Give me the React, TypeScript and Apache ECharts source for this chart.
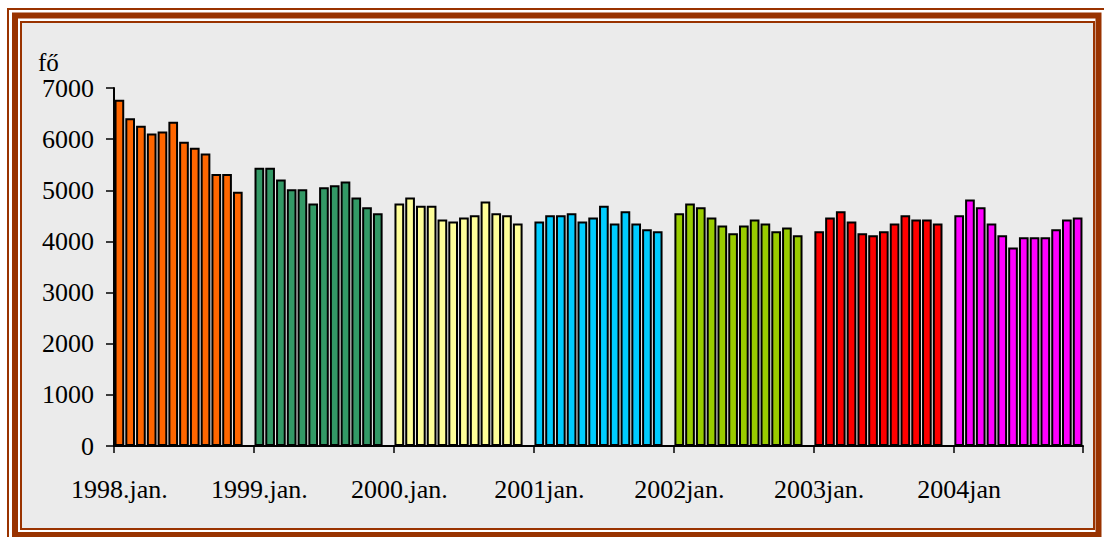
import React, { useEffect, useRef } from "react";
import * as echarts from "echarts";

const yearLabels = ["1998.jan.", "1999.jan.", "2000.jan.", "2001jan.", "2002jan.", "2003jan.", "2004jan"];
const yearColors = ["#FF6600", "#339966", "#FFFF99", "#00CCFF", "#99CC00", "#FF0000", "#FF00FF"];

const y1998 = [6770, 6410, 6260, 6110, 6150, 6340, 5950, 5830, 5720, 5320, 5320, 4970];
const y1999 = [5440, 5440, 5210, 5020, 5020, 4740, 5060, 5100, 5170, 4860, 4670, 4550];
const y2000 = [4740, 4860, 4700, 4700, 4430, 4390, 4470, 4510, 4780, 4550, 4510, 4350];
const y2001 = [4390, 4510, 4510, 4550, 4390, 4470, 4700, 4350, 4590, 4350, 4240, 4200];
const y2002 = [4550, 4740, 4670, 4470, 4310, 4160, 4310, 4430, 4350, 4200, 4270, 4120];
const y2003 = [4200, 4470, 4590, 4390, 4160, 4120, 4200, 4350, 4510, 4430, 4430, 4350];
const y2004 = [4510, 4820, 4670, 4350, 4120, 3880, 4080, 4080, 4080, 4240, 4430, 4470];

const years = [y1998, y1999, y2000, y2001, y2002, y2003, y2004];
const yTicks = { min: 0, max: 7000, interval: 1000 };
const unitLabel = "fő";

const FONT = "'Liberation Serif', 'Times New Roman', serif";
const BROWN = "#993300";

export default function App() {
  const ref = useRef<HTMLDivElement>(null);

  useEffect(() => {
    if (!ref.current) return;
    const chart = echarts.init(ref.current, undefined, { renderer: "svg" });

    const categories: string[] = [];
    const data: any[] = [];
    years.forEach((vals, yi) => {
      vals.forEach((v, mi) => {
        categories.push(mi === 0 ? yearLabels[yi] : "");
        data.push({ value: v, itemStyle: { color: yearColors[yi] } });
      });
      if (yi < years.length - 1) {
        categories.push("");
        data.push("-");
      }
    });

    chart.setOption({
      animation: false,
      backgroundColor: "#ffffff",
      graphic: [
        {
          type: "rect",
          z: -10,
          shape: { x: 8, y: 9, width: 1110, height: 600 },
          style: { fill: "none", stroke: BROWN, lineWidth: 2 },
          silent: true,
        },
        {
          type: "rect",
          z: -10,
          shape: { x: 15, y: 15.5, width: 1083.5, height: 519.5 },
          style: { fill: "none", stroke: BROWN, lineWidth: 6 },
          silent: true,
        },
        {
          type: "rect",
          z: -10,
          shape: { x: 21, y: 22, width: 1073, height: 507 },
          style: { fill: "#EBEBEB", stroke: BROWN, lineWidth: 2 },
          silent: true,
        },
        {
          type: "text",
          z: 10,
          x: 38,
          y: 62,
          style: {
            text: unitLabel,
            fill: "#000",
            font: `25px ${FONT}`,
            textAlign: "left",
            textVerticalAlign: "middle",
          },
          silent: true,
        },
      ],
      grid: { left: 114, right: 21, top: 88, bottom: 91, containLabel: false },
      xAxis: {
        type: "category",
        data: categories,
        boundaryGap: true,
        axisLine: { show: true, lineStyle: { color: "#000", width: 2 } },
        axisTick: {
          show: true,
          alignWithLabel: false,
          length: 7,
          interval: (i: number) => i % 13 === 0,
          lineStyle: { color: "#000", width: 1.5 },
        },
        axisLabel: {
          interval: 0,
          margin: 30,
          color: "#000",
          fontFamily: FONT,
          fontSize: 26,
        },
        splitLine: { show: false },
      },
      yAxis: {
        type: "value",
        min: yTicks.min,
        max: yTicks.max,
        interval: yTicks.interval,
        axisLine: { show: true, lineStyle: { color: "#000", width: 2 } },
        axisTick: { show: true, length: 8, lineStyle: { color: "#000", width: 1.5 } },
        axisLabel: {
          margin: 20,
          color: "#000",
          fontFamily: FONT,
          fontSize: 26,
          formatter: (v: number) => String(v),
        },
        splitLine: { show: false },
      },
      series: [
        {
          type: "bar",
          data,
          barCategoryGap: "10%",
          itemStyle: { borderColor: "#000", borderWidth: 2 },
        },
      ],
    });

    return () => chart.dispose();
  }, []);

  return (
    <div
      ref={ref}
      style={{ position: "absolute", left: 0, top: 0, width: 1104, height: 537 }}
    />
  );
}
